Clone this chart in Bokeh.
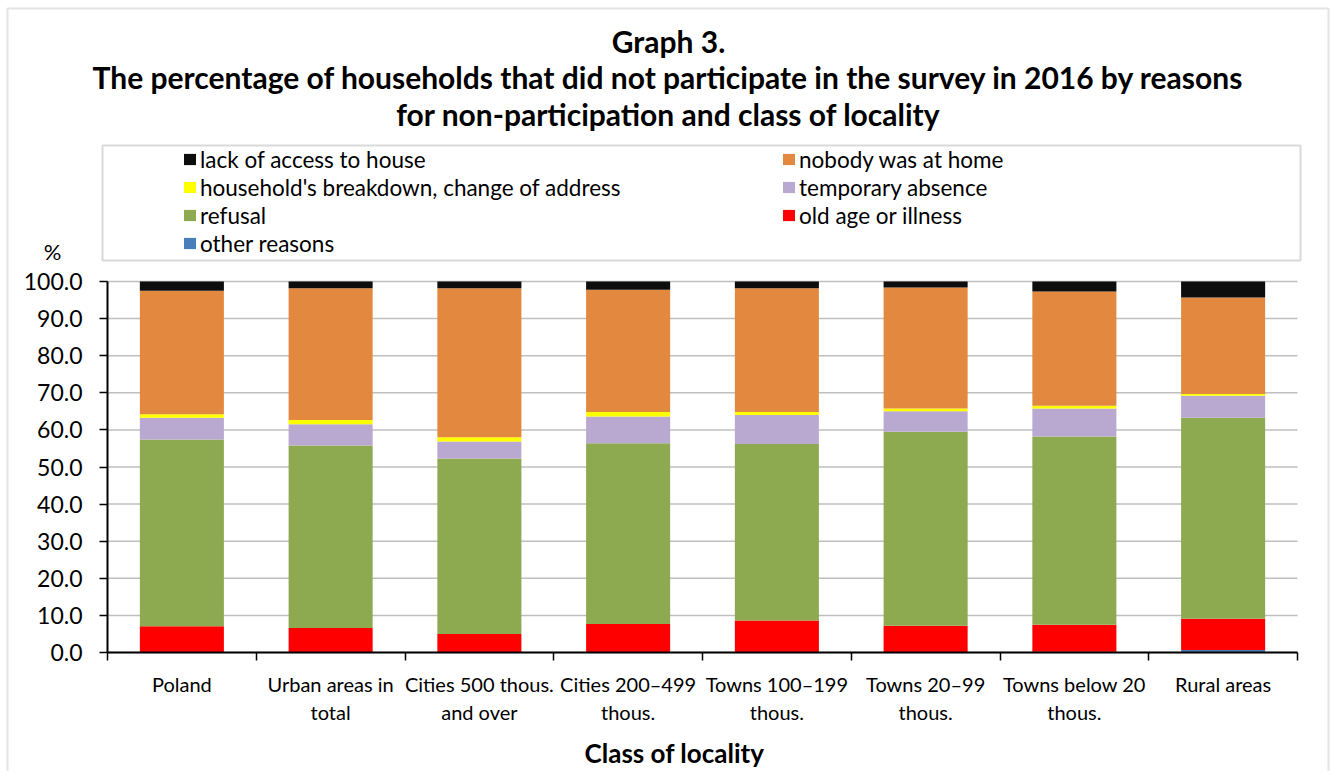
from bokeh.plotting import figure
from bokeh.models import (ColumnDataSource, Label, Legend, LegendItem, FixedTicker,
                          NumeralTickFormatter, BoxAnnotation, Range1d)
from bokeh.embed import file_html
from bokeh.resources import INLINE

# ---------------- data ----------------
categories = ["Poland", "Urban areas in\ntotal", "Cities 500 thous.\nand over",
              "Cities 200\u2013499\nthous.", "Towns 100\u2013199\nthous.",
              "Towns 20\u201399\nthous.", "Towns below 20\nthous.", "Rural areas"]
other_reasons = [0.1, 0.0, 0.0, 0.0, 0.0, 0.0, 0.2, 0.7]
old_age_illness = [7.0, 6.6, 5.0, 7.7, 8.6, 7.2, 7.3, 8.4]
refusal = [50.3, 49.2, 47.3, 48.7, 47.6, 52.3, 50.7, 54.2]
temporary_absence = [5.9, 5.7, 4.6, 7.2, 7.8, 5.5, 7.6, 5.9]
household_breakdown = [0.9, 1.2, 1.1, 1.2, 0.8, 0.8, 0.7, 0.5]
nobody_at_home = [33.3, 35.5, 40.2, 33.0, 33.4, 32.6, 30.8, 26.0]
lack_of_access = [2.5, 1.8, 1.8, 2.2, 1.8, 1.6, 2.7, 4.3]
y_ticks = [0, 10, 20, 30, 40, 50, 60, 70, 80, 90, 100]
y_max = 100

series_keys = ["other", "old", "refusal", "temp", "household", "nobody", "lack"]
series_names = ["other reasons", "old age or illness", "refusal", "temporary absence",
                "household's breakdown, change of address", "nobody was at home",
                "lack of access to house"]
series_colors = ["#4A7EBB", "#FF0000", "#8EAA51", "#B9A9D0", "#FFFF00", "#E3893F", "#0D0D0D"]

title_lines = ["Graph 3.",
               "The percentage of households that did not participate in the survey in 2016 by reasons",
               "for non-participation and class of locality"]
x_title = "Class of locality"
y_title = "%"

FONT = "Lato"

# ---------------- layout (pixels) ----------------
W, H = 1331, 771
AX_L, AX_R, AX_T, AX_B = 107, 1297, 281, 652
n = len(categories)
XU = (AX_R - AX_L) / n          # px per category
YU = (AX_B - AX_T) / y_max      # px per percent


def X(px):
    return (px - AX_L) / XU


def Y(py):
    return (AX_B - py) / YU


xs = [i + 0.5 for i in range(n)]
source = ColumnDataSource(dict(x=xs, other=other_reasons, old=old_age_illness, refusal=refusal,
                               temp=temporary_absence, household=household_breakdown,
                               nobody=nobody_at_home, lack=lack_of_access))

p = figure(width=W, height=H, output_backend="svg", toolbar_location=None,
           x_range=Range1d(X(0), X(W)), y_range=Range1d(Y(H), Y(0)),
           min_border_left=0, min_border_right=0, min_border_top=0, min_border_bottom=0)
p.outline_line_color = None
p.background_fill_color = "white"
p.border_fill_color = "white"
p.xgrid.grid_line_color = None
p.ygrid.grid_line_color = None

# gridlines (span the category extent only)
p.segment(x0=[0] * len(y_ticks), x1=[n] * len(y_ticks), y0=y_ticks, y1=y_ticks,
          line_color="#BFBFBF", line_width=1.5)

renderers = p.vbar_stack(series_keys, x="x", width=0.565, color=series_colors,
                         line_color=None, source=source)

# axes drawn at fixed data locations
p.yaxis.fixed_location = 0
p.yaxis.bounds = (0, y_max)
p.yaxis.ticker = FixedTicker(ticks=y_ticks)
p.yaxis.formatter = NumeralTickFormatter(format="0.0")
p.yaxis.major_label_text_font = FONT
p.yaxis.major_label_text_font_size = "23px"
p.yaxis.major_label_text_color = "black"
p.yaxis.major_tick_out = 8
p.yaxis.major_tick_in = 0
p.yaxis.minor_tick_line_color = None
p.yaxis.major_label_standoff = 17
p.yaxis.axis_line_width = 2
p.yaxis.major_tick_line_width = 1.5

p.xaxis.fixed_location = 0
p.xaxis.bounds = (0, n)
p.xaxis.ticker = FixedTicker(ticks=xs, minor_ticks=list(range(n + 1)))
p.xaxis.major_label_overrides = {x: c for x, c in zip(xs, categories)}
p.xaxis.major_tick_line_color = None
p.xaxis.minor_tick_line_color = "black"
p.xaxis.minor_tick_line_width = 1.5
p.xaxis.minor_tick_out = 8
p.xaxis.minor_tick_in = 0
p.xaxis.major_tick_out = 8
p.xaxis.major_tick_in = 0
p.xaxis.major_label_standoff = 11
p.xaxis.major_label_text_font = FONT
p.xaxis.major_label_text_font_size = "20px"
p.xaxis.major_label_text_color = "black"
p.xaxis.major_label_text_line_height = 1.2
p.xaxis.axis_line_width = 2

# titles and axis titles
for txt, py in zip(title_lines, [40, 76, 113]):
    p.add_layout(Label(x=X(668), y=Y(py), text=txt,
                       text_align="center", text_baseline="middle", text_font=FONT,
                       text_font_style="bold", text_font_size="30px", text_color="black"))
p.add_layout(Label(x=X(674), y=Y(752), text=x_title,
                   text_align="center", text_baseline="middle", text_font=FONT,
                   text_font_style="bold", text_font_size="26px", text_color="black"))
p.add_layout(Label(x=X(52), y=Y(251), text=y_title,
                   text_align="center", text_baseline="middle", text_font=FONT,
                   text_font_size="22px", text_color="black"))

# boxes
p.add_layout(BoxAnnotation(left=X(7), right=X(1328), top=Y(8), bottom=Y(H + 20),
                           fill_color=None, line_color="#A6A6A6", line_width=2))
p.add_layout(BoxAnnotation(left=X(102), right=X(1300), top=Y(145), bottom=Y(260),
                           fill_color=None, line_color="#808080", line_width=2))

# legends (two columns)
rmap = dict(zip(series_keys, renderers))
nmap = dict(zip(series_keys, series_names))
left_keys = ["lack", "household", "refusal", "other"]
right_keys = ["nobody", "temp", "old"]
ITEM_H, SPACING = 27, 1


def make_legend(keys, left_px, first_center_px):
    bottom_px = first_center_px - ITEM_H / 2 + len(keys) * ITEM_H + (len(keys) - 1) * SPACING
    lg = Legend(items=[LegendItem(label=nmap[k], renderers=[rmap[k]]) for k in keys],
                location=(left_px, H - bottom_px), padding=0, margin=0, spacing=SPACING,
                glyph_width=15, glyph_height=14, label_height=ITEM_H, label_standoff=3,
                border_line_color=None, background_fill_alpha=0,
                label_text_font=FONT, label_text_font_size="22.5px", label_text_color="black")
    return lg


p.add_layout(make_legend(left_keys, 182, 159), "center")
p.add_layout(make_legend(right_keys, 781, 159), "center")

open("out.html", "w").write(file_html(p, INLINE))
